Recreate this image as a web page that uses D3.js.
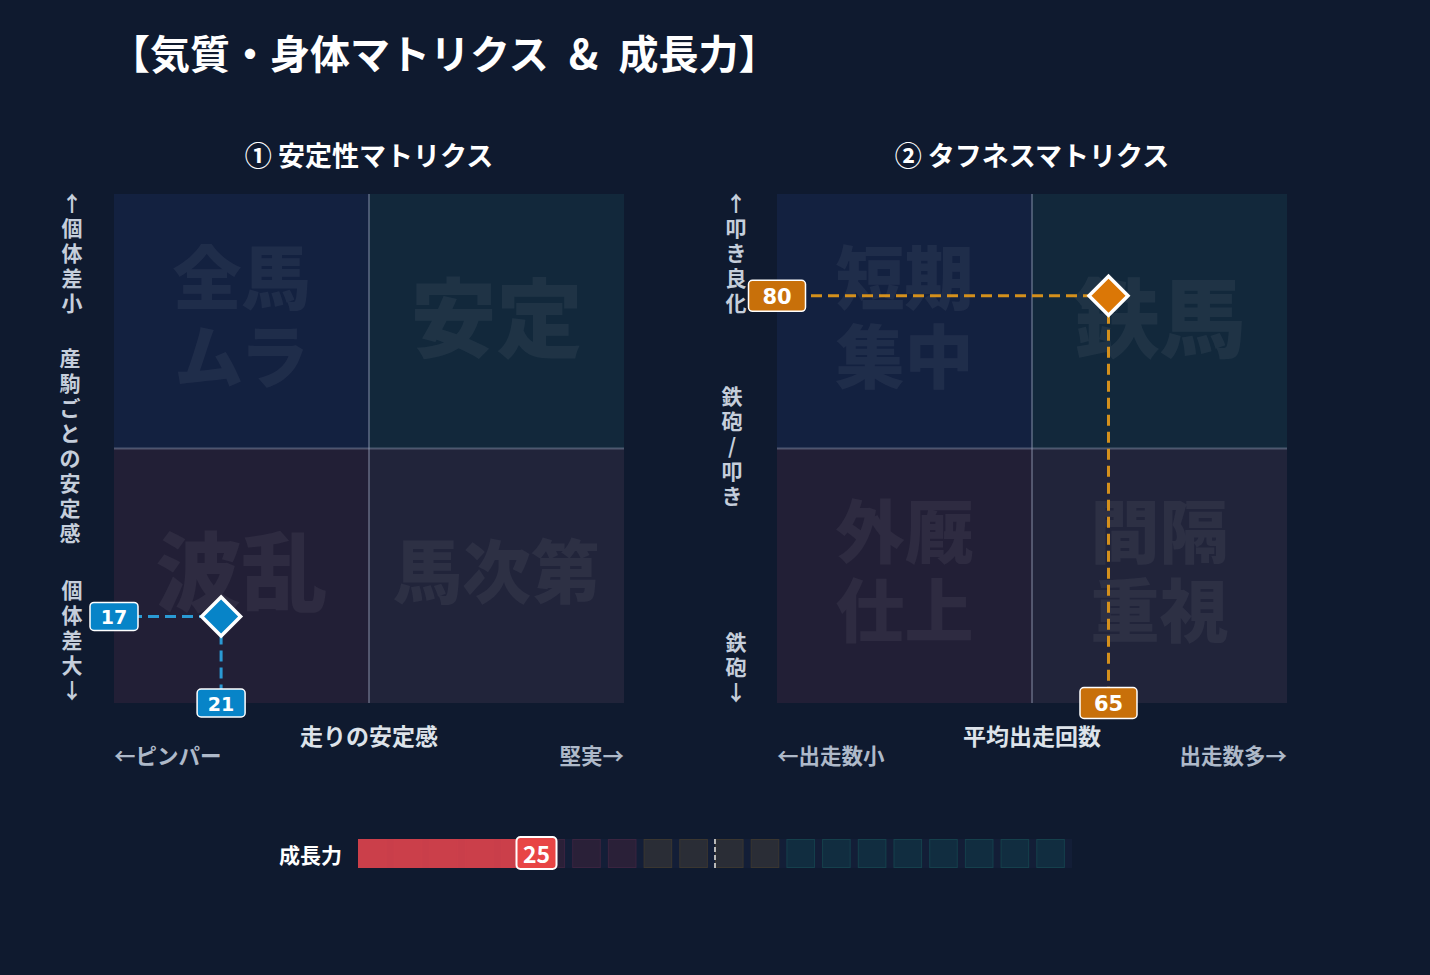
<!DOCTYPE html>
<html>
<head>
<meta charset="utf-8">
<script src="https://cdn.jsdelivr.net/npm/d3@7"></script>
<style>
  body { margin: 0; background: #0f1a2f; }
  svg { display: block; font-family: "Noto Sans CJK JP", "Noto Sans", sans-serif; }
</style>
</head>
<body>
<svg id="chart" width="1430" height="975"></svg>
<script>
// ---- data ----
const titleText = "【気質・身体マトリクス\u2002&\u2002成長力】";
const matrixTitles = ["① 安定性マトリクス", "② タフネスマトリクス"];
// quadrant labels: top-left, top-right, bottom-left, bottom-right
const stabilityQuadrants = [["全馬", "ムラ"], ["安定"], ["波乱"], ["馬次第"]];
const toughnessQuadrants = [["短期", "集中"], ["鉄馬"], ["外厩", "仕上"], ["間隔", "重視"]];
const stabilityAxisY = ["↑個体差小", "産駒ごとの安定感", "個体差大↓"];
const toughnessAxisY = ["↑叩き良化", "鉄砲/叩き", "鉄砲↓"];
const stabilityAxisX = ["←ピンパー", "走りの安定感", "堅実→"];
const toughnessAxisX = ["←出走数小", "平均出走回数", "出走数多→"];
const stabilityValue = [21, 17];   // x, y
const toughnessValue = [65, 80];   // x, y
const growthLabel = "成長力";
const growthValue = 25;
const growthSegmentCount = 20;
const growthZoneBreaks = [25, 40, 60];
const growthMarker = 50;

// ---- styles ----
const quadFills = ["#132140", "#12283b", "#221f36", "#21243a"];
const zoneFills = ["#3a2030", "#2a2038", "#2a2d36", "#112d40"];
const zoneStrokes = ["#4a2535", "#3a2440", "#3a3630", "#15404c"];

const svg = d3.select("#chart");

svg.append("text")
  .attr("x", 110).attr("y", 69)
  .attr("fill", "#ffffff")
  .attr("font-size", 40).attr("font-weight", 700)
  .text(titleText);

function drawMatrix(opts) {
  const x = d3.scaleLinear().domain([0, 100]).range([opts.left, opts.left + 510]);
  const y = d3.scaleLinear().domain([0, 100]).range([703, 194]);
  const g = svg.append("g");

  g.append("text")
    .attr("x", x(50)).attr("y", 166)
    .attr("text-anchor", "middle")
    .attr("fill", "#ffffff").attr("font-size", 27).attr("font-weight", 700)
    .text(opts.title);

  const quads = [[0, 50, 50, 100], [50, 100, 50, 100], [0, 50, 0, 50], [50, 100, 0, 50]];
  g.selectAll("rect.quad").data(quads).join("rect")
    .attr("class", "quad")
    .attr("x", d => x(d[0])).attr("y", d => y(d[3]))
    .attr("width", d => x(d[1]) - x(d[0])).attr("height", d => y(d[2]) - y(d[3]))
    .attr("fill", (d, i) => quadFills[i]);

  // quadrant watermark labels
  quads.forEach((q, i) => {
    const lines = opts.quadLabels[i];
    const cx = x((q[0] + q[1]) / 2), cy = y((q[2] + q[3]) / 2) - 8;
    const fs = lines.length > 1 ? 69 : (lines[0].length > 2 ? 69 : 86);
    const lh = 79;
    lines.forEach((t, j) => {
      g.append("text")
        .attr("x", cx).attr("y", cy + (j - (lines.length - 1) / 2) * lh)
        .attr("text-anchor", "middle").attr("dominant-baseline", "central")
        .attr("font-size", fs).attr("font-weight", 900)
        .attr("fill", "#ffffff").attr("fill-opacity", 0.055)
        .text(t);
    });
  });

  // mid lines
  g.append("line")
    .attr("x1", x(50)).attr("x2", x(50)).attr("y1", y(100)).attr("y2", y(0))
    .attr("stroke", "rgba(160,170,195,0.4)").attr("stroke-width", 2);
  g.append("line")
    .attr("x1", x(0)).attr("x2", x(100)).attr("y1", y(50)).attr("y2", y(50))
    .attr("stroke", "rgba(160,170,195,0.4)").attr("stroke-width", 2);

  // vertical axis labels, one char per line
  opts.axisY.forEach((label, k) => {
    const chars = Array.from(label);
    const t = g.append("text")
      .attr("text-anchor", "middle").attr("dominant-baseline", "central")
      .attr("font-size", 21).attr("font-weight", 700).attr("fill", "#c5cedb");
    chars.forEach((c, j) => {
      t.append("tspan")
        .attr("x", opts.axisYx[k]).attr("y", opts.axisYy[k] + j * 25)
        .text(c);
    });
  });

  // horizontal axis labels
  g.append("text")
    .attr("x", x(0)).attr("y", 754).attr("dominant-baseline", "central")
    .attr("font-size", 21.5).attr("font-weight", 700).attr("fill", "#aeb9c9")
    .text(opts.axisX[0]);
  g.append("text")
    .attr("x", x(50)).attr("y", 735).attr("dominant-baseline", "central")
    .attr("text-anchor", "middle")
    .attr("font-size", 23).attr("font-weight", 700).attr("fill", "#dde3ea")
    .text(opts.axisX[1]);
  g.append("text")
    .attr("x", x(100)).attr("y", 754).attr("dominant-baseline", "central")
    .attr("text-anchor", "end")
    .attr("font-size", 21.5).attr("font-weight", 700).attr("fill", "#aeb9c9")
    .text(opts.axisX[2]);

  // point
  const px = x(opts.value[0]), py = y(opts.value[1]);
  g.append("line")
    .attr("x1", x(0)).attr("x2", px).attr("y1", py).attr("y2", py)
    .attr("stroke", opts.lineColor).attr("stroke-width", 3).attr("stroke-dasharray", "11,6");
  g.append("line")
    .attr("x1", px).attr("x2", px).attr("y1", py).attr("y2", y(0))
    .attr("stroke", opts.lineColor).attr("stroke-width", 3).attr("stroke-dasharray", "11,6");
  g.append("path")
    .attr("d", d3.symbol(d3.symbolSquare, 760)())
    .attr("transform", `translate(${px},${py}) rotate(45)`)
    .attr("fill", opts.color).attr("stroke", "#ffffff").attr("stroke-width", 3.5);

  const badges = [
    { cx: x(0), cy: py, t: opts.value[1] },
    { cx: px, cy: y(0), t: opts.value[0] }
  ];
  badges.forEach(b => {
    g.append("rect")
      .attr("x", b.cx - opts.badgeW / 2).attr("y", b.cy - opts.badgeH / 2)
      .attr("width", opts.badgeW).attr("height", opts.badgeH).attr("rx", 4)
      .attr("fill", opts.badgeColor).attr("stroke", "#ffffff").attr("stroke-width", 1.5);
    g.append("text")
      .attr("x", b.cx).attr("y", b.cy + 1)
      .attr("text-anchor", "middle").attr("dominant-baseline", "central")
      .attr("font-family", "'DejaVu Sans', sans-serif")
      .attr("font-size", opts.badgeFont).attr("font-weight", 700).attr("fill", "#ffffff")
      .text(b.t);
  });
}

drawMatrix({
  left: 114, title: matrixTitles[0], quadLabels: stabilityQuadrants,
  axisY: stabilityAxisY, axisYx: [72, 70, 72], axisYy: [202, 357, 589],
  axisX: stabilityAxisX, value: stabilityValue,
  color: "#0784c8", lineColor: "#2a9ad4", badgeColor: "#0784c8",
  badgeW: 48, badgeH: 28, badgeFont: 19
});
drawMatrix({
  left: 777, title: matrixTitles[1], quadLabels: toughnessQuadrants,
  axisY: toughnessAxisY, axisYx: [736, 732, 736], axisYy: [202, 395, 641],
  axisX: toughnessAxisX, value: toughnessValue,
  color: "#db7706", lineColor: "#d4901c", badgeColor: "#c8700a",
  badgeW: 57, badgeH: 31, badgeFont: 21
});

// ---- growth bar ----
const gx = d3.scaleLinear().domain([0, 100]).range([358, 1072]);
const seg = d3.scaleBand().domain(d3.range(growthSegmentCount))
  .range([358, 1072]).paddingInner(0.2).paddingOuter(0.1).align(0);
const barY = 839, barH = 29;
const gg = svg.append("g");

gg.append("text")
  .attr("x", 342).attr("y", barY + barH / 2).attr("text-anchor", "end")
  .attr("dominant-baseline", "central")
  .attr("font-size", 21).attr("font-weight", 700).attr("fill", "#ffffff")
  .text(growthLabel);

gg.append("rect")
  .attr("x", gx(0)).attr("y", barY).attr("width", gx(100) - gx(0)).attr("height", barH)
  .attr("fill", "#131e37");

const zoneOf = i => {
  const mid = (i + 0.5) * 100 / growthSegmentCount;
  let z = 0;
  growthZoneBreaks.forEach(b => { if (mid > b) z++; });
  return z;
};
gg.selectAll("rect.seg").data(d3.range(growthSegmentCount)).join("rect")
  .attr("class", "seg")
  .attr("x", d => seg(d) + 0.5).attr("y", barY + 0.5)
  .attr("width", seg.bandwidth() - 1).attr("height", barH - 1)
  .attr("fill", d => zoneFills[zoneOf(d)])
  .attr("stroke", d => zoneStrokes[zoneOf(d)]).attr("stroke-width", 1);

gg.append("rect")
  .attr("x", gx(0)).attr("y", barY).attr("width", gx(growthValue) - gx(0)).attr("height", barH)
  .attr("fill", "#d5414b").attr("fill-opacity", 0.94);

gg.append("line")
  .attr("x1", gx(growthMarker)).attr("x2", gx(growthMarker))
  .attr("y1", barY).attr("y2", barY + barH)
  .attr("stroke", "#b8b8b8").attr("stroke-width", 2).attr("stroke-dasharray", "5,3");

gg.append("rect")
  .attr("x", gx(growthValue) - 20).attr("y", barY - 2).attr("width", 40).attr("height", 32)
  .attr("rx", 4).attr("fill", "#e84545").attr("stroke", "#ffffff").attr("stroke-width", 2);
gg.append("text")
  .attr("x", gx(growthValue)).attr("y", barY + 14)
  .attr("text-anchor", "middle").attr("dominant-baseline", "central")
  .attr("font-size", 23).attr("font-weight", 700).attr("fill", "#ffffff")
  .text(growthValue);
</script>
</body>
</html>
